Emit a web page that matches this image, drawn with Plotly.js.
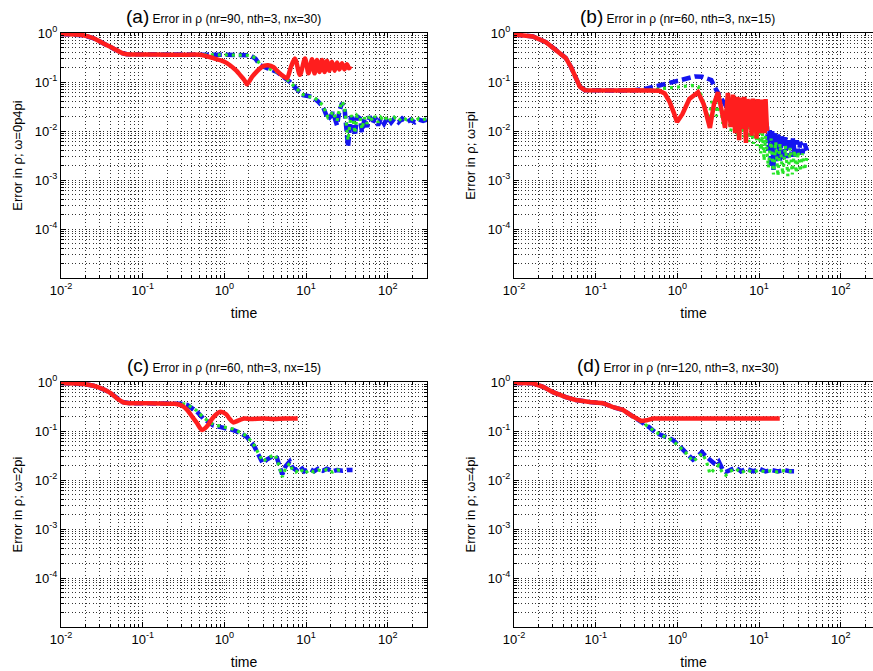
<!DOCTYPE html>
<html>
<head>
<meta charset="utf-8">
<script src="https://cdn.plot.ly/plotly-3.0.1.min.js"></script>
<style>html,body{margin:0;padding:0;background:#fff;}#chart{width:873px;height:671px;}</style>
</head>
<body>
<div id="chart"></div>
<script>
// ---------- tick labels ----------
const xTickVals = [0.01, 0.1, 1, 10, 100];
const xTickText = ['10<sup>-2</sup>', '10<sup>-1</sup>', '10<sup>0</sup>', '10<sup>1</sup>', '10<sup>2</sup>'];
const yTickVals = [1e-4, 1e-3, 1e-2, 1e-1, 1];
const yTickText = ['10<sup>-4</sup>', '10<sup>-3</sup>', '10<sup>-2</sup>', '10<sup>-1</sup>', '10<sup>0</sup>'];

// ---------- titles ----------
const panelTags = ['(a)', '(b)', '(c)', '(d)'];
const panelTitles = ['Error in ρ (nr=90, nth=3, nx=30)', 'Error in ρ (nr=60, nth=3, nx=15)',
                     'Error in ρ (nr=60, nth=3, nx=15)', 'Error in ρ (nr=120, nth=3, nx=30)'];
const yTitles = ['Error in ρ; ω=0p4pi', 'Error in ρ; ω=pi', 'Error in ρ; ω=2pi', 'Error in ρ; ω=4pi'];
const xTitle = 'time';

// ---------- panel (a) ----------
const aStartT = [0.01, 0.0186, 0.0246, 0.0327, 0.0433, 0.056, 0.064, 0.1, 0.2, 0.3, 0.5];
const aStartE = [0.95, 0.9, 0.79, 0.62, 0.49, 0.39, 0.37, 0.365, 0.36, 0.36, 0.36];
const aRedT = [0.72, 1.0, 1.17, 1.4, 1.55, 1.75, 1.89, 2.18, 2.5, 2.73, 3.1, 3.42, 4.0, 4.4, 5.0, 5.83, 6.5, 7.3, 8.4, 9.7, 10.7, 11.8, 12.7, 13.6, 14.6, 15.7, 16.8, 18.0, 19.3, 20.7, 22.3, 23.9, 25.6, 27.5, 29.5, 31.6, 33.5, 35];
const aRedE = [0.31, 0.26, 0.22, 0.17, 0.14, 0.11, 0.09, 0.127, 0.165, 0.19, 0.215, 0.22, 0.2, 0.17, 0.14, 0.12, 0.2, 0.3, 0.14, 0.3, 0.15, 0.29, 0.15, 0.28, 0.16, 0.28, 0.16, 0.27, 0.17, 0.26, 0.17, 0.25, 0.18, 0.24, 0.18, 0.23, 0.19, 0.21];
const aBlueT = [0.7, 1.0, 1.5, 2.06, 2.4, 2.73, 3.4, 4.4, 5.2, 6.35, 7.5, 9.2, 10.5, 12.1, 14, 16.1, 17.5, 18.5, 20, 21.3, 22.5, 23.9, 25.5, 27.5, 29.5, 31, 32.6, 34, 35.5, 37.5, 39.6, 42, 45.7, 48.3, 52, 56, 60, 65, 70, 76, 82, 90, 100, 110, 120, 135, 150, 170, 190, 215, 240, 270, 300];
const aBlueE = [0.36, 0.36, 0.355, 0.35, 0.3, 0.22, 0.19, 0.16, 0.13, 0.1, 0.075, 0.054, 0.052, 0.049, 0.04, 0.031, 0.022, 0.017, 0.02, 0.024, 0.018, 0.013, 0.025, 0.037, 0.03, 0.012, 0.0047, 0.01, 0.02, 0.017, 0.008, 0.02, 0.018, 0.0095, 0.018, 0.012, 0.02, 0.014, 0.019, 0.013, 0.018, 0.014, 0.019, 0.015, 0.018, 0.015, 0.018, 0.015, 0.017, 0.015, 0.017, 0.016, 0.017];
const aGreenE = [0.36, 0.36, 0.355, 0.35, 0.31, 0.23, 0.19, 0.16, 0.13, 0.1, 0.075, 0.055, 0.05, 0.05, 0.042, 0.033, 0.024, 0.019, 0.021, 0.025, 0.02, 0.016, 0.027, 0.04, 0.032, 0.014, 0.0065, 0.012, 0.021, 0.018, 0.009, 0.021, 0.019, 0.011, 0.019, 0.014, 0.021, 0.016, 0.02, 0.015, 0.019, 0.016, 0.02, 0.016, 0.019, 0.016, 0.019, 0.017, 0.018, 0.016, 0.018, 0.017, 0.018];

// ---------- panel (b) ----------
const bStartT = [0.01, 0.017, 0.0246, 0.0326, 0.043, 0.05, 0.056, 0.064, 0.074, 0.1, 0.2, 0.3];
const bStartE = [0.93, 0.85, 0.65, 0.45, 0.31, 0.2, 0.127, 0.08, 0.068, 0.067, 0.067, 0.068];
const bRedT = [0.45, 0.6, 0.7, 0.8, 0.9, 0.99, 1.15, 1.4, 1.79, 2.1, 2.5, 2.8, 3.14, 3.5, 3.83, 4.15, 4.5, 4.8, 5.1, 5.4, 5.7, 6.0, 6.3, 6.6, 6.9, 7.2, 7.5, 7.8, 8.1, 8.4, 8.7, 9.0, 9.3, 9.6, 9.9, 10.2, 10.5, 10.8, 11.1, 11.4, 11.7, 12.0, 12.5];
const bRedE = [0.068, 0.066, 0.058, 0.04, 0.024, 0.0153, 0.022, 0.045, 0.062, 0.035, 0.0116, 0.035, 0.062, 0.025, 0.0116, 0.06, 0.012, 0.055, 0.009, 0.05, 0.0065, 0.048, 0.011, 0.05, 0.0057, 0.045, 0.012, 0.044, 0.008, 0.046, 0.01, 0.042, 0.007, 0.045, 0.012, 0.04, 0.009, 0.044, 0.011, 0.04, 0.009, 0.045, 0.01];
const bBlueT = [0.4, 0.6, 0.9, 1.2, 1.64, 2.0, 2.6, 3.0, 3.5, 4.1, 4.6, 5.0, 5.5, 6.0, 6.5, 7.0, 7.5, 8.0, 8.6, 9.2, 9.8, 10.5, 11.2, 12.0, 12.5, 13, 13.5, 14, 14.5, 15, 15.5, 16.3, 17, 18, 19, 20, 21, 22, 23, 24.5, 26, 27.5, 29, 30.5, 32, 34, 36, 38.6];
const bBlueE = [0.072, 0.085, 0.1, 0.115, 0.13, 0.128, 0.11, 0.068, 0.045, 0.029, 0.021, 0.035, 0.016, 0.03, 0.013, 0.028, 0.012, 0.025, 0.011, 0.022, 0.012, 0.02, 0.011, 0.016, 0.012, 0.004, 0.011, 0.0018, 0.01, 0.0016, 0.009, 0.0022, 0.0085, 0.0025, 0.008, 0.0025, 0.0075, 0.0028, 0.0072, 0.003, 0.007, 0.003, 0.0065, 0.0033, 0.006, 0.0035, 0.0055, 0.004];
const bGreenT = [0.45, 0.6, 1.0, 1.5, 1.8, 2.0, 2.2, 2.4, 2.7, 3.0, 3.3, 3.6, 4.0, 4.5, 5.0, 5.5, 6.0, 6.5, 7.0, 7.5, 8.0, 8.5, 9, 9.5, 10, 10.5, 11, 11.5, 12, 13, 14, 15, 16, 17, 18, 19.5, 21, 22.5, 24, 25.5, 27, 28.5, 30, 32, 34, 36, 38.6];
const bGreenE = [0.068, 0.072, 0.078, 0.085, 0.08, 0.05, 0.03, 0.018, 0.045, 0.02, 0.045, 0.014, 0.03, 0.01, 0.025, 0.008, 0.02, 0.0075, 0.018, 0.006, 0.015, 0.0055, 0.012, 0.005, 0.011, 0.0035, 0.009, 0.0025, 0.008, 0.0018, 0.007, 0.0013, 0.006, 0.0012, 0.0055, 0.0013, 0.005, 0.0012, 0.0045, 0.0013, 0.004, 0.0014, 0.0038, 0.0015, 0.0035, 0.0016, 0.003];

// ---------- panel (c) ----------
const cStartT = [0.01, 0.015, 0.02, 0.025, 0.03, 0.035, 0.04, 0.048, 0.057, 0.07, 0.1, 0.15, 0.2, 0.25];
const cStartE = [0.95, 0.93, 0.9, 0.84, 0.76, 0.68, 0.6, 0.47, 0.39, 0.37, 0.37, 0.365, 0.36, 0.36];
const cRedT = [0.3, 0.35, 0.4, 0.46, 0.53, 0.6, 0.73, 0.88, 1.05, 1.15, 1.28, 1.5, 1.75, 2.1, 3, 4, 5.5, 7.9];
const cRedE = [0.33, 0.27, 0.2, 0.146, 0.105, 0.12, 0.19, 0.245, 0.22, 0.18, 0.15, 0.165, 0.18, 0.175, 0.18, 0.175, 0.18, 0.18];
const cBlueT = [0.3, 0.35, 0.46, 0.55, 0.73, 0.9, 1.27, 1.6, 1.89, 2.3, 2.6, 2.95, 3.3, 3.7, 4.1, 4.4, 4.8, 5.1, 5.6, 6.3, 6.8, 7.5, 8.5, 9.5, 11, 12.5, 14, 16, 18, 21, 24, 28, 32, 37];
const cBlueE = [0.36, 0.34, 0.25, 0.18, 0.13, 0.12, 0.105, 0.09, 0.075, 0.05, 0.035, 0.022, 0.026, 0.029, 0.032, 0.028, 0.018, 0.013, 0.019, 0.024, 0.018, 0.016, 0.019, 0.015, 0.017, 0.015, 0.017, 0.0155, 0.017, 0.015, 0.016, 0.0155, 0.016, 0.016];
const cGreenT = [0.3, 0.35, 0.46, 0.55, 0.73, 0.9, 1.27, 1.6, 1.89, 2.3, 2.6, 2.95, 3.3, 3.7, 4.1, 4.4, 4.8, 5.1, 5.6, 6.3, 6.8, 7.5, 8.5, 9.5, 11, 12.5, 14, 16, 18, 21, 24, 28];
const cGreenE = [0.36, 0.35, 0.26, 0.19, 0.135, 0.125, 0.11, 0.092, 0.078, 0.052, 0.036, 0.024, 0.027, 0.03, 0.033, 0.027, 0.016, 0.0115, 0.017, 0.022, 0.016, 0.0145, 0.017, 0.0135, 0.016, 0.0145, 0.016, 0.015, 0.0165, 0.0145, 0.016, 0.0155];

// ---------- panel (d) ----------
const dStartT = [0.01, 0.017, 0.0227, 0.03, 0.043, 0.057, 0.085, 0.123, 0.16, 0.215, 0.27, 0.33];
const dStartE = [0.95, 0.94, 0.8, 0.62, 0.49, 0.43, 0.39, 0.37, 0.31, 0.27, 0.21, 0.17];
const dRedT = [0.36, 0.42, 0.5, 0.7, 1, 3, 10, 17.9];
const dRedE = [0.16, 0.165, 0.18, 0.18, 0.18, 0.18, 0.18, 0.18];
const dBlueT = [0.36, 0.45, 0.55, 0.7, 0.88, 1.05, 1.27, 1.55, 1.75, 2.0, 2.25, 2.5, 2.9, 3.2, 3.6, 3.9, 4.4, 5.2, 6, 7, 8.5, 10, 12, 14, 17, 20, 24, 27.6];
const dBlueE = [0.15, 0.12, 0.091, 0.078, 0.066, 0.05, 0.037, 0.026, 0.03, 0.037, 0.03, 0.026, 0.021, 0.024, 0.016, 0.0146, 0.016, 0.018, 0.015, 0.017, 0.015, 0.017, 0.015, 0.016, 0.015, 0.016, 0.015, 0.015];
const dGreenT = [0.36, 0.45, 0.55, 0.7, 0.88, 1.05, 1.27, 1.55, 1.75, 2.0, 2.25, 2.5, 2.9, 3.2, 3.6, 3.9, 4.4, 5.2, 6, 7, 8.5, 10, 12, 14, 17, 20, 25];
const dGreenE = [0.15, 0.12, 0.093, 0.078, 0.064, 0.048, 0.036, 0.024, 0.028, 0.035, 0.025, 0.0135, 0.017, 0.02, 0.0135, 0.0125, 0.015, 0.017, 0.014, 0.016, 0.0145, 0.016, 0.0145, 0.0155, 0.0145, 0.0155, 0.015];

// ---------- build ----------
const W = 873, H = 671;
const FONT = 'Liberation Sans, Arial, Helvetica, sans-serif';
const RED = 'rgb(255,30,30)', BLUE = 'rgb(20,20,240)', GREEN = 'rgb(40,230,40)';

const xMinor = [], yMinor = [];
for (let d = -2; d <= 2; d++) for (let k = 2; k <= 9; k++) xMinor.push(k * Math.pow(10, d));
for (let d = -5; d <= -1; d++) for (let k = 2; k <= 9; k++) yMinor.push(k * Math.pow(10, d));

const panels = [
  {start: [aStartT, aStartE], red: [aRedT, aRedE], blue: [aBlueT, aBlueE], green: [aBlueT, aGreenE], smoothRed: true},
  {start: [bStartT, bStartE], red: [bRedT, bRedE], blue: [bBlueT, bBlueE], green: [bGreenT, bGreenE], smoothRed: false},
  {start: [cStartT, cStartE], red: [cRedT, cRedE], blue: [cBlueT, cBlueE], green: [cGreenT, cGreenE], smoothRed: true},
  {start: [dStartT, dStartE], red: [dRedT, dRedE], blue: [dBlueT, dBlueE], green: [dGreenT, dGreenE], smoothRed: false}
];

// pixel boxes of the four plot areas [left, right, top, bottom]
const boxes = [[61, 427, 33, 278], [514, 873, 33, 278], [61, 427, 382, 627], [514, 873, 382, 627]];
const pxPerDecade = 81.7;

const traces = [];
const layout = {
  width: W, height: H, margin: {l: 0, r: 0, t: 0, b: 0},
  paper_bgcolor: '#fff', plot_bgcolor: '#fff', showlegend: false,
  font: {family: FONT, color: '#000'}, annotations: []
};
const gridStyle = {gridcolor: 'rgba(0,0,0,0.8)', griddash: '1px,2.5px', gridwidth: 1};

panels.forEach((p, i) => {
  const n = i === 0 ? '' : String(i + 1);
  const xa = 'x' + n, ya = 'y' + n;
  const [l, r, t, b] = boxes[i];
  const xmax = -2 + (r - l) / pxPerDecade;
  const rightCut = r >= W;
  const mk = (arr, color, width, dash, smooth) => ({
    x: p.start[0].concat(arr[0]), y: p.start[1].concat(arr[1]),
    xaxis: xa, yaxis: ya, type: 'scatter', mode: 'lines',
    line: smooth ? {color: color, width: width, dash: dash, shape: 'spline', smoothing: 0.8}
                 : {color: color, width: width, dash: dash},
    hoverinfo: 'skip'
  });
  traces.push(mk(p.blue, BLUE, 4.5, '9px,4px', false));
  traces.push(mk(p.green, GREEN, 3.2, '3px,4px', false));
  traces.push(mk(p.red, RED, 4.5, 'solid', p.smoothRed));

  layout['xaxis' + n] = Object.assign({
    type: 'log', domain: [l / W, Math.min(r / W, 1)], range: [-2, xmax], anchor: ya,
    tickmode: 'array', tickvals: xTickVals, ticktext: xTickText,
    ticks: 'inside', ticklen: 5, tickcolor: '#000', tickwidth: 1,
    showline: true, linecolor: '#000', linewidth: 1, mirror: 'allticks',
    showgrid: true, zeroline: false,
    tickfont: {family: FONT, size: 13, color: '#000'},
    minor: Object.assign({tickmode: 'array', tickvals: xMinor, ticks: 'inside', ticklen: 3, tickcolor: '#000', showgrid: true}, gridStyle),
    title: {text: xTitle, font: {family: FONT, size: 14, color: '#000'}, standoff: 11}
  }, gridStyle);
  layout['yaxis' + n] = Object.assign({
    type: 'log', domain: [1 - b / H, 1 - t / H], range: [-5, 0], anchor: xa,
    tickmode: 'array', tickvals: yTickVals, ticktext: yTickText,
    ticks: 'inside', ticklen: 5, tickcolor: '#000', tickwidth: 1,
    showline: true, linecolor: '#000', linewidth: 1, mirror: rightCut ? false : 'allticks',
    showgrid: true, zeroline: false,
    tickfont: {family: FONT, size: 13, color: '#000'},
    minor: Object.assign({tickmode: 'array', tickvals: yMinor, ticks: 'inside', ticklen: 3, tickcolor: '#000', showgrid: true}, gridStyle),
    title: {text: yTitles[i], font: {family: FONT, size: 13, color: '#000'}, standoff: 9}
  }, gridStyle);

  const titleCx = [224, 677, 224, 678][i];
  const titleCy = [17, 17, 365, 365][i];
  layout.annotations.push({
    xref: 'paper', yref: 'paper', x: titleCx / W, y: 1 - titleCy / H,
    xanchor: 'center', yanchor: 'middle', showarrow: false,
    text: '<span style="font-size:19px">' + panelTags[i] + '</span> ' + panelTitles[i],
    font: {family: FONT, size: 12, color: '#000'}
  });
});

Plotly.newPlot('chart', traces, layout, {displayModeBar: false, staticPlot: true});
</script>
</body>
</html>
